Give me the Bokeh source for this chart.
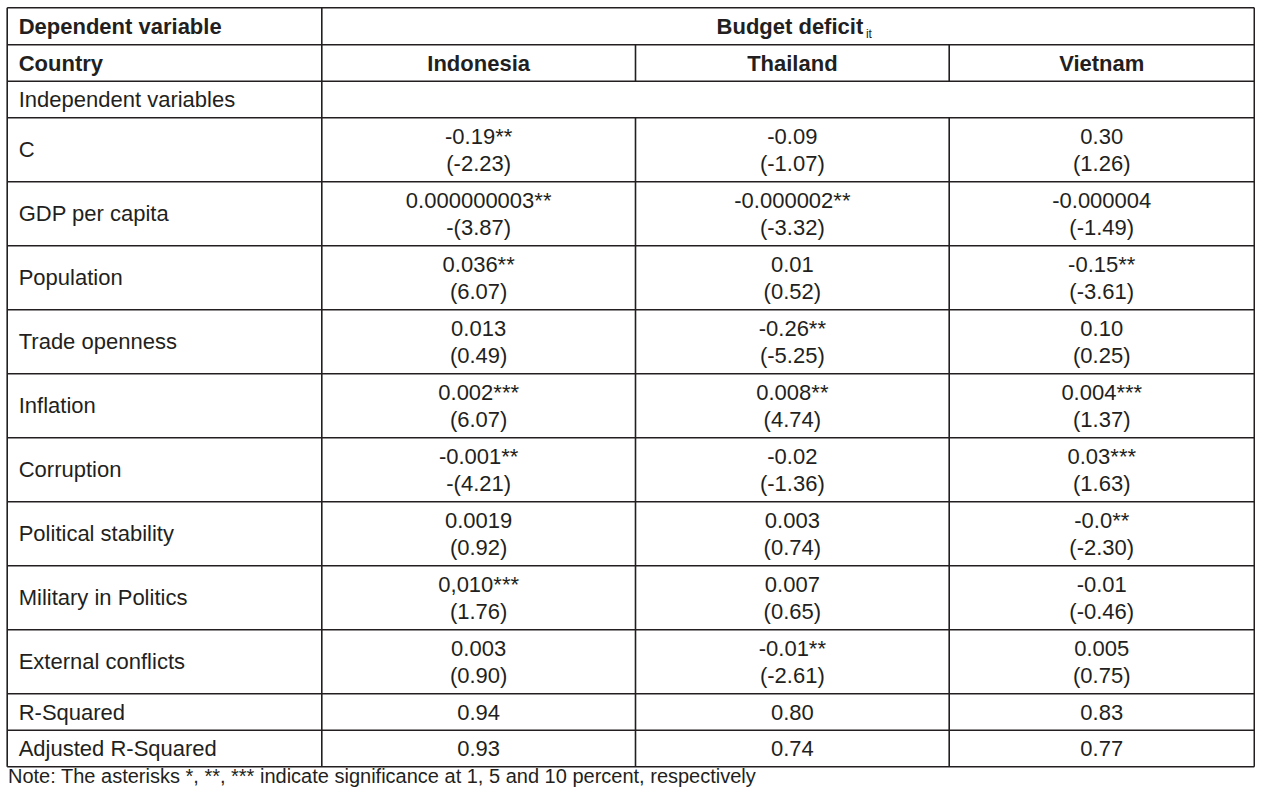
from bokeh.plotting import figure
from bokeh.models import ColumnDataSource, Range1d
from bokeh.core.properties import value
from bokeh.embed import file_html
from bokeh.resources import INLINE

# ---------------- data ----------------
countries = ["Indonesia", "Thailand", "Vietnam"]
variables = ["C", "GDP per capita", "Population", "Trade openness", "Inflation",
             "Corruption", "Political stability", "Military in Politics", "External conflicts"]
indonesia_coef = ["-0.19**", "0.000000003**", "0.036**", "0.013", "0.002***",
                  "-0.001**", "0.0019", "0,010***", "0.003"]
indonesia_t = ["(-2.23)", "-(3.87)", "(6.07)", "(0.49)", "(6.07)",
               "-(4.21)", "(0.92)", "(1.76)", "(0.90)"]
thailand_coef = ["-0.09", "-0.000002**", "0.01", "-0.26**", "0.008**",
                 "-0.02", "0.003", "0.007", "-0.01**"]
thailand_t = ["(-1.07)", "(-3.32)", "(0.52)", "(-5.25)", "(4.74)",
              "(-1.36)", "(0.74)", "(0.65)", "(-2.61)"]
vietnam_coef = ["0.30", "-0.000004", "-0.15**", "0.10", "0.004***",
                "0.03***", "-0.0**", "-0.01", "0.005"]
vietnam_t = ["(1.26)", "(-1.49)", "(-3.61)", "(0.25)", "(1.37)",
             "(1.63)", "(-2.30)", "(-0.46)", "(0.75)"]
fit_labels = ["R-Squared", "Adjusted R-Squared"]
r_squared = ["0.94", "0.80", "0.83"]
adj_r_squared = ["0.93", "0.74", "0.77"]
dep_label = "Dependent variable"
dep_name = "Budget deficit"
dep_sub = "it"
country_label = "Country"
indep_label = "Independent variables"
note = "Note: The asterisks *, **, *** indicate significance at 1, 5 and 10 percent, respectively"

# ---------------- layout (figure pixels) ----------------
W, H = 1255, 787
col_edges = [6.7, 321.3, 635.0, 948.7, W - 1.2]
row_heights = [37, 36.5, 36.5] + [64] * len(variables) + [36.5, 36.5]
row_edges = [7.3]
for h in row_heights:
    row_edges.append(row_edges[-1] + h)
row_mid = [(row_edges[i] + row_edges[i + 1]) / 2 for i in range(len(row_heights))]
col_mid = [(col_edges[i] + col_edges[i + 1]) / 2 for i in range(1, 4)]
label_x = col_edges[0] + 11.5

INK = "#231f20"
FONT = value("Liberation Sans")
FS = "22px"

p = figure(width=W, height=H, output_backend="svg", toolbar_location=None,
           x_range=Range1d(0, W), y_range=Range1d(H, 0), min_border=0)
p.xaxis.visible = False
p.yaxis.visible = False
p.xgrid.visible = False
p.ygrid.visible = False
p.outline_line_color = None

# grid lines
x0, y0, x1, y1 = [], [], [], []
for y in row_edges:
    x0.append(col_edges[0]); x1.append(col_edges[-1]); y0.append(y); y1.append(y)
for x in (col_edges[0], col_edges[1], col_edges[-1]):
    x0.append(x); x1.append(x); y0.append(row_edges[0]); y1.append(row_edges[-1])
for x in (col_edges[2], col_edges[3]):
    x0.append(x); x1.append(x); y0.append(row_edges[1]); y1.append(row_edges[2])
    x0.append(x); x1.append(x); y0.append(row_edges[3]); y1.append(row_edges[-1])
p.segment(x0=x0, y0=y0, x1=x1, y1=y1, line_color=INK, line_width=1.6)

# bold header texts
bx, by, bt, ba = [], [], [], []
bx += [label_x, label_x]; by += [row_mid[0], row_mid[1]]; bt += [dep_label, country_label]; ba += ["left", "left"]
for cx, c in zip(col_mid, countries):
    bx.append(cx); by.append(row_mid[1]); bt.append(c); ba.append("center")
span_mid = (col_edges[1] + 1263.5) / 2 - 3
bx.append(span_mid); by.append(row_mid[0]); bt.append(dep_name); ba.append("center")
p.text(x="x", y="y", text="t", text_align="a",
       source=ColumnDataSource(dict(x=bx, y=by, t=bt, a=ba)),
       text_baseline="middle", text_font=FONT, text_font_size=FS,
       text_font_style="bold", text_color=INK)
p.text(x=[span_mid + 76], y=[row_mid[0] + 7.5], text=[dep_sub], text_align="left",
       text_baseline="middle", text_font=FONT, text_font_size="12px", text_color=INK)

# regular texts
rx, ry, rt, ra = [], [], [], []
rx.append(label_x); ry.append(row_mid[2]); rt.append(indep_label); ra.append("left")
coefs = [indonesia_coef, thailand_coef, vietnam_coef]
tstats = [indonesia_t, thailand_t, vietnam_t]
for i, v in enumerate(variables):
    ym = row_mid[3 + i]
    rx.append(label_x); ry.append(ym); rt.append(v); ra.append("left")
    for cx, cc, tt in zip(col_mid, coefs, tstats):
        rx.append(cx); ry.append(ym - 13.5); rt.append(cc[i]); ra.append("center")
        rx.append(cx); ry.append(ym + 14.0); rt.append(tt[i]); ra.append("center")
for j, (lab, vals) in enumerate(zip(fit_labels, [r_squared, adj_r_squared])):
    ym = row_mid[3 + len(variables) + j]
    rx.append(label_x); ry.append(ym); rt.append(lab); ra.append("left")
    for cx, vv in zip(col_mid, vals):
        rx.append(cx); ry.append(ym); rt.append(vv); ra.append("center")
p.text(x="x", y="y", text="t", text_align="a",
       source=ColumnDataSource(dict(x=rx, y=ry, t=rt, a=ra)),
       text_baseline="middle", text_font=FONT, text_font_size=FS, text_color=INK)

# note
p.text(x=[7.5], y=[H - 11.5], text=[note], text_align="left",
       text_baseline="middle", text_font=FONT, text_font_size="20px", text_color=INK)

open("out.html", "w").write(file_html(p, INLINE))
